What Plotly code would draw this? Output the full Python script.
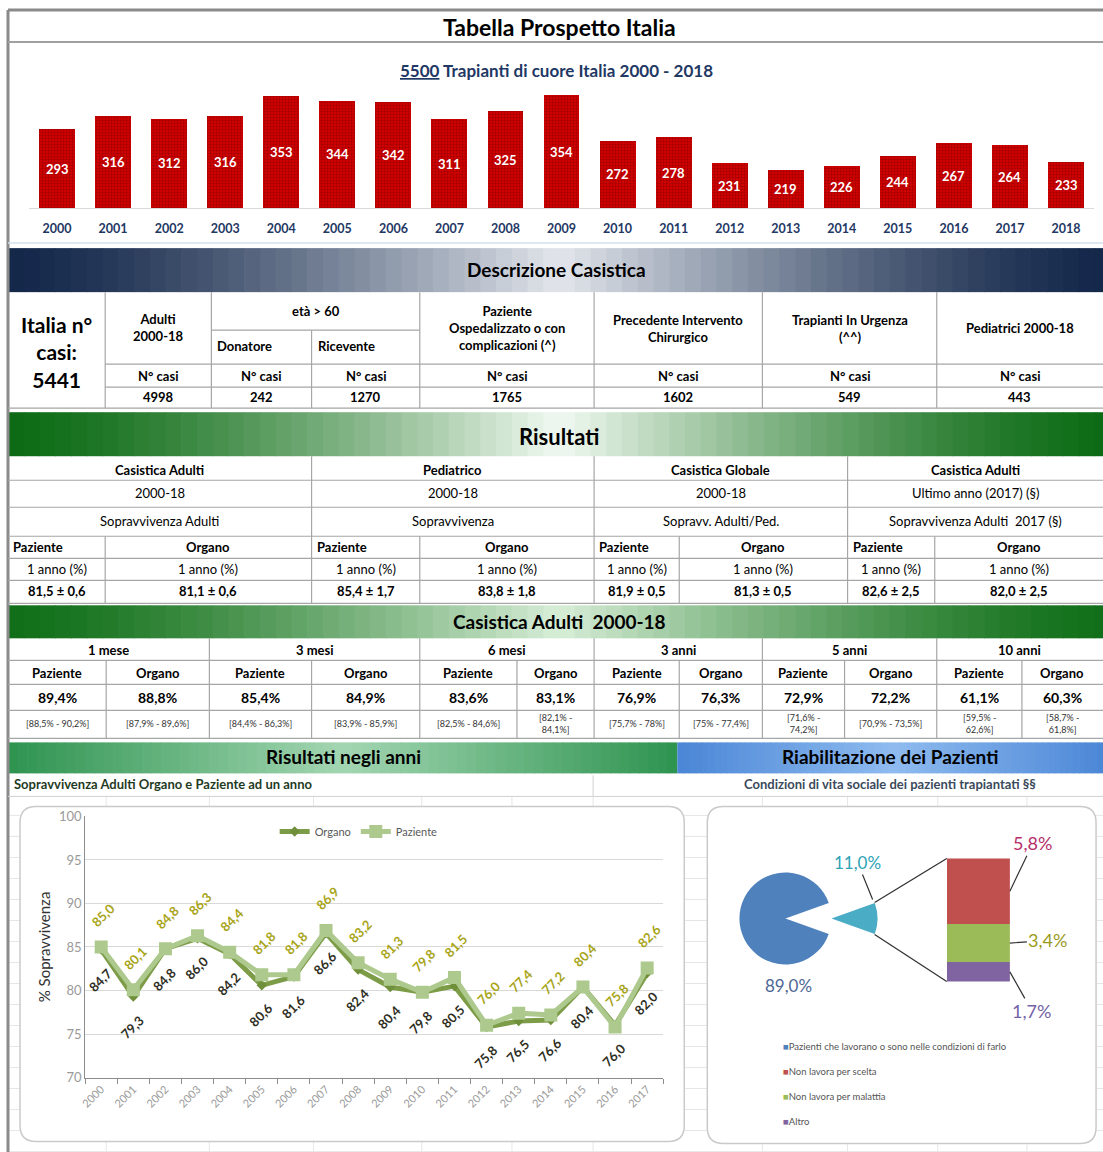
import plotly.graph_objects as go

W, H = 1103, 1152
FONT = "Lato, 'Open Sans', sans-serif"

# ---- dati ----
anni = [str(a) for a in range(2000, 2019)]
trapianti = [293, 316, 312, 316, 353, 344, 342, 311, 325, 354, 272, 278, 231, 219, 226, 244, 267, 264, 233]
Y_BASE = 150  # inizio asse barre

italia_casi = 5441
desc_headers = ["Adulti<br>2000-18", "Donatore", "Ricevente",
                "Paziente<br>Ospedalizzato o con<br>complicazioni (^)",
                "Precedente Intervento<br>Chirurgico", "Trapianti In Urgenza<br>(^^)",
                "Pediatrici 2000-18"]
desc_values = [4998, 242, 1270, 1765, 1602, 549, 443]

ris_gruppi = ["Casistica Adulti", "Pediatrico", "Casistica Globale", "Casistica Adulti"]
ris_periodo = ["2000-18", "2000-18", "2000-18", "Ultimo anno (2017) (§)"]
ris_descr = ["Sopravvivenza Adulti", "Sopravvivenza", "Sopravv. Adulti/Ped.", "Sopravvivenza Adulti  2017 (§)"]
ris_paziente = ["81,5 ± 0,6", "85,4 ± 1,7", "81,9 ± 0,5", "82,6 ± 2,5"]
ris_organo = ["81,1 ± 0,6", "83,8 ± 1,8", "81,3 ± 0,5", "82,0 ± 2,5"]

cas_periodi = ["1 mese", "3 mesi", "6 mesi", "3 anni", "5 anni", "10 anni"]
cas_paziente = ["89,4%", "85,4%", "83,6%", "76,9%", "72,9%", "61,1%"]
cas_organo = ["88,8%", "84,9%", "83,1%", "76,3%", "72,2%", "60,3%"]
cas_paz_ic = ["[88,5% - 90,2%]", "[84,4% - 86,3%]", "[82,5% - 84,6%]", "[75,7% - 78%]",
              "[71,6% -<br>74,2%]", "[59,5% -<br>62,6%]"]
cas_org_ic = ["[87,9% - 89,6%]", "[83,9% - 85,9%]", "[82,1% -<br>84,1%]", "[75% - 77,4%]",
              "[70,9% - 73,5%]", "[58,7% -<br>61,8%]"]

anni_linea = [str(a) for a in range(2000, 2018)]
organo = [84.7, 79.3, 84.8, 86.0, 84.2, 80.6, 81.6, 86.6, 82.4, 80.4, 79.8, 80.5, 75.8, 76.5, 76.6, 80.4, 76.0, 82.0]
paziente = [85.0, 80.1, 84.8, 86.3, 84.4, 81.8, 81.8, 86.9, 83.2, 81.3, 79.8, 81.5, 76.0, 77.4, 77.2, 80.4, 75.8, 82.6]

riab_labels = ["Pazienti che lavorano o sono nelle condizioni di farlo", "Non lavora per scelta",
               "Non lavora per malattia", "Altro"]
riab_torta = [89.0, 11.0]
riab_barra = [5.8, 3.4, 1.7]

C_BLU, C_TEAL = "#4f81bd", "#4bacc6"
C_BARRA = ["#c0504d", "#9bbb59", "#8064a2"]
C_LAB_BARRA = ["#b5306a", "#9a9a1a", "#7462a6"]

# calibrazione della pagina fotografata (offset px, scala)
OX, SX = 8, 0.9927
OY, SY = 8, 0.9856


def X(p):
    return (p - OX) / SX / W


def Y(p):
    return 1 - (p - OY) / SY / H


def fmt(v):
    return f"{v:.1f}".replace(".", ",")


shapes = []
ann = []


def line(x0, y0, x1, y1, color="#a6a6a6", width=1.2, layer="above"):
    shapes.append(dict(type="line", xref="paper", yref="paper", x0=X(x0), y0=Y(y0), x1=X(x1), y1=Y(y1),
                       line=dict(color=color, width=width), layer=layer))


def rect(x0, y0, x1, y1, fill, layer="below"):
    shapes.append(dict(type="rect", xref="paper", yref="paper", x0=X(x0), y0=Y(y0), x1=X(x1), y1=Y(y1),
                       fillcolor=fill, line=dict(width=0), layer=layer))


def text(x, y, s, size=13, color="black", bold=False, anchor="center"):
    if bold:
        s = f"<b>{s}</b>"
    ann.append(dict(xref="paper", yref="paper", x=X(x), y=Y(y), text=s, showarrow=False,
                    xanchor=anchor, yanchor="middle", font=dict(family=FONT, size=size, color=color)))


def rgb(h):
    return tuple(int(h[i:i + 2], 16) for i in (1, 3, 5))


def band(x0, x1, y0, y1, edge, center, n=70, p=1.4):
    e, c = rgb(edge), rgb(center)
    step = (x1 - x0) / n
    for i in range(n):
        t = (1 - abs(2 * (i + 0.5) / n - 1)) ** p
        col = "rgb(%d,%d,%d)" % tuple(round(a + (b - a) * t) for a, b in zip(e, c))
        rect(x0 + i * step, y0, min(x1, x0 + (i + 1) * step + 0.7), y1, col)


def rbox(x0, y0, x1, y1, r=16):
    path = (f"M {X(x0 + r)},{Y(y0)} L {X(x1 - r)},{Y(y0)} Q {X(x1)},{Y(y0)} {X(x1)},{Y(y0 + r)} "
            f"L {X(x1)},{Y(y1 - r)} Q {X(x1)},{Y(y1)} {X(x1 - r)},{Y(y1)} "
            f"L {X(x0 + r)},{Y(y1)} Q {X(x0)},{Y(y1)} {X(x0)},{Y(y1 - r)} "
            f"L {X(x0)},{Y(y0 + r)} Q {X(x0)},{Y(y0)} {X(x0 + r)},{Y(y0)} Z")
    shapes.append(dict(type="path", xref="paper", yref="paper", path=path, fillcolor="white",
                       line=dict(color="#cacaca", width=1.5), layer="below"))


fig = go.Figure()

# ---- cornice e titolo ----
line(10, 10, 1110, 10, "#8a8a8a", 3)
line(10, 10, 10, 1160, "#8a8a8a", 3)
line(10, 42, 1110, 42, "#a0a0a0", 2)
line(10, 243, 1110, 243, "#d5dfea", 1.5)
text(560, 27, "Tabella Prospetto Italia", 23, bold=True)
text(557, 70, f"<u>{sum(trapianti)}</u> Trapianti di cuore Italia {anni[0]} - {anni[-1]}", 17, "#1f3864", bold=True)

# ---- barre trapianti ----
fig.add_trace(go.Bar(
    x=anni, y=trapianti, width=0.64, textposition="none",
    marker=dict(line=dict(width=0),
                pattern=dict(shape="+", bgcolor="#cf0000", fgcolor="#8c0000", fgopacity=0.8, size=3,
                             solidity=0.3, fillmode="replace")),
    showlegend=False, hoverinfo="x+y", xaxis="x", yaxis="y"))
for i, v in enumerate(trapianti):
    ann.append(dict(xref="x", yref="y", x=i, y=(v + Y_BASE) / 2, text=f"<b>{v}</b>", showarrow=False,
                    font=dict(family=FONT, size=13, color="white")))

# ---- Descrizione Casistica ----
band(10, 1110, 248, 292, "#13274a", "#e3e7ec")
text(557, 269, "Descrizione Casistica", 19, bold=True)
text(58, 352, f"Italia n°<br>casi:<br>{italia_casi}", 21, bold=True)
dcols = [107, 213, 313, 421, 595, 763, 937, 1103]
for xv in [107, 213, 421, 595, 763, 937]:
    line(xv, 292, xv, 408)
line(313, 330, 313, 408)
line(213, 330, 421, 330)
for yv in [364, 387]:
    line(107, yv, 1110, yv)
line(10, 408, 1110, 408)
text(160, 327, desc_headers[0], 13, bold=True)
text(317, 311, "età > 60", 13, bold=True)
text(217, 346, desc_headers[1], 13, bold=True, anchor="left")
text(317, 346, desc_headers[2], 13, bold=True, anchor="left")
for i in range(3, 7):
    text((dcols[i] + dcols[i + 1]) / 2, 328, desc_headers[i], 13, bold=True)
for i, v in enumerate(desc_values):
    cx = (dcols[i] + dcols[i + 1]) / 2
    text(cx, 376, "N° casi", 13, bold=True)
    text(cx, 397, str(v), 13, bold=True)

# ---- Risultati ----
band(10, 1110, 412, 456, "#0c6b14", "#f2f9f2")
text(560, 436, "Risultati", 22, bold=True)
rg = [10, 313, 595, 848, 1103]
rs = [107, 421, 680, 935]
for yv in [480, 507, 536, 558, 580, 603]:
    line(10, yv, 1110, yv)
for xv in rg[1:-1]:
    line(xv, 456, xv, 603)
for xv in rs:
    line(xv, 536, xv, 603)
for i in range(4):
    cg = (rg[i] + rg[i + 1]) / 2
    cp = (rg[i] + rs[i]) / 2
    co = (rs[i] + rg[i + 1]) / 2
    text(cg, 470, ris_gruppi[i], 13, bold=True)
    text(cg, 493, ris_periodo[i], 13)
    text(cg, 521, ris_descr[i], 13)
    text(rg[i] + 3, 547, "Paziente", 13, bold=True, anchor="left")
    text(co, 547, "Organo", 13, bold=True)
    text(cp, 569, "1 anno (%)", 13)
    text(co, 569, "1 anno (%)", 13)
    text(cp, 591, ris_paziente[i], 13, bold=True)
    text(co, 591, ris_organo[i], 13, bold=True)

# ---- Casistica Adulti 2000-18 ----
band(10, 1110, 605, 638, "#106f18", "#d8eed8")
text(560, 621, "Casistica Adulti  2000-18", 19, bold=True)
cg_ = [10, 211, 421, 595, 763, 937, 1103]
cs_ = [108, 313, 518, 680, 845, 1022]
for yv in [660, 684, 710, 738]:
    line(10, yv, 1110, yv)
for xv in cg_[1:-1]:
    line(xv, 638, xv, 738)
for xv in cs_:
    line(xv, 660, xv, 738)
for i in range(6):
    cp = (cg_[i] + cs_[i]) / 2
    co = (cs_[i] + cg_[i + 1]) / 2
    text((cg_[i] + cg_[i + 1]) / 2, 650, cas_periodi[i], 13, bold=True)
    text(cp, 673, "Paziente", 13, bold=True)
    text(co, 673, "Organo", 13, bold=True)
    text(cp, 697, cas_paziente[i], 14, bold=True)
    text(co, 697, cas_organo[i], 14, bold=True)
    text(cp, 723, cas_paz_ic[i], 9, "#333333")
    text(co, 723, cas_org_ic[i], 9, "#333333")

# ---- sezione inferiore ----
band(10, 678, 742, 773, "#2e9350", "#a3d6b2", p=1.0)
band(678, 1110, 742, 773, "#4a86d6", "#8fbbef", p=1.0)
text(345, 756, "Risultati negli anni", 19, bold=True)
text(890, 756, "Riabilitazione dei Pazienti", 19, bold=True)
text(14, 784, "Sopravvivenza Adulti Organo e Paziente ad un anno", 13, "#1f3b1f", bold=True, anchor="left")
text(890, 784, "Condizioni di vita sociale dei pazienti trapiantati §§", 13, "#3b4a5c", bold=True)
line(10, 796, 1110, 796, "#d0d0d0", 1)
line(594, 775, 594, 796, "#d0d0d0", 1)

# griglia del foglio di calcolo
for yv in range(815, 1160, 21):
    line(10, yv, 1110, yv, "#e6e6e6", 1, "below")
for xv in [108, 211, 315, 423, 513, 594, 763, 848, 938, 1027]:
    line(xv, 796, xv, 1160, "#e6e6e6", 1, "below")
rbox(22, 806, 685, 1141)
rbox(708, 806, 1096, 1143)

# ---- grafico sopravvivenza ----
fig.add_trace(go.Scatter(
    x=anni_linea, y=organo, name="Organo", mode="lines+markers",
    line=dict(color="#7d9c48", width=5), marker=dict(symbol="diamond", size=8, color="#6f8f3a"),
    xaxis="x2", yaxis="y2"))
fig.add_trace(go.Scatter(
    x=anni_linea, y=paziente, name="Paziente", mode="lines+markers",
    line=dict(color="#adc98d", width=5), marker=dict(symbol="square", size=13, color="#adc98d"),
    xaxis="x2", yaxis="y2"))
for i, (vo, vp) in enumerate(zip(organo, paziente)):
    ann.append(dict(xref="x2", yref="y2", x=i, y=vp, text=f"<b>{fmt(vp)}</b>", showarrow=False,
                    textangle=-45, yshift=32, xshift=2,
                    font=dict(family=FONT, size=13, color="#a8a418")))
    ann.append(dict(xref="x2", yref="y2", x=i, y=vo, text=f"<b>{fmt(vo)}</b>", showarrow=False,
                    textangle=-45, yshift=-30, xshift=-1,
                    font=dict(family=FONT, size=13, color="#2e2e1e")))

# ---- riabilitazione: torta + barra ----
fig.add_trace(go.Pie(
    values=riab_torta, labels=[riab_labels[0], "Non lavora"], sort=False, direction="clockwise",
    rotation=90 + riab_torta[1] / 100 * 180, pull=[0, 1], textinfo="none", showlegend=False,
    marker=dict(colors=[C_BLU, C_TEAL], line=dict(width=0)),
    domain=dict(x=[X(694), X(878)], y=[Y(1010), Y(826)])))
for v, c, nm in zip(riab_barra[::-1], C_BARRA[::-1], riab_labels[1:][::-1]):
    fig.add_trace(go.Bar(x=[0], y=[v], width=1, name=nm, marker=dict(color=c, line=dict(width=0)),
                         showlegend=False, xaxis="x3", yaxis="y3"))
tot = sum(riab_barra)

# connettori torta -> barra
line(875, 902, 947, 858, "#333333", 1.3)
line(875, 934, 947, 981, "#333333", 1.3)

text(789, 985, fmt(riab_torta[0]) + "%", 17, "#4d6795")
ann.append(dict(xref="paper", yref="paper", x=X(873), y=Y(899), ax=-15, ay=-37, text=fmt(riab_torta[1]) + "%",
                showarrow=True, arrowhead=0, arrowwidth=1.2, arrowcolor="#333333",
                font=dict(family=FONT, size=17, color="#2ea3b6")))
cum = 0
mids = []
for v in riab_barra[::-1]:
    mids.append(cum + v / 2)
    cum += v
mids = mids[::-1]
offs = [(23, -48), (38, -3), (22, 39)]
for v, m, col, (ax, ay) in zip(riab_barra, mids, C_LAB_BARRA, offs):
    ann.append(dict(xref="x3", yref="y3", x=0.5, y=m, ax=ax, ay=ay, text=fmt(v) + "%",
                    showarrow=True, arrowhead=0, arrowwidth=1.2, arrowcolor="#333333",
                    font=dict(family=FONT, size=18, color=col)))

# legenda riabilitazione
for i, (lab, col) in enumerate(zip(riab_labels, [C_BLU] + C_BARRA)):
    text(782, 1046 + 25 * i, f"<span style='color:{col}'>■</span>{lab}", 9.5, "#555555", anchor="left")

fig.update_layout(
    width=W, height=H, autosize=False, margin=dict(l=0, r=0, t=0, b=0),
    paper_bgcolor="white", plot_bgcolor="rgba(0,0,0,0)", barmode="stack",
    font=dict(family=FONT),
    shapes=shapes, annotations=ann,
    legend=dict(orientation="h", x=X(360), y=Y(831), xanchor="center", yanchor="middle", traceorder="normal",
                font=dict(family=FONT, size=11, color="#595959"), bgcolor="rgba(0,0,0,0)"),
    xaxis=dict(domain=[X(31), X(1094)], range=[-0.5, 18.5], type="category", anchor="y",
               showline=True, linecolor="#d9d9d9", showgrid=False, ticks="outside", ticklen=9,
               tickcolor="rgba(0,0,0,0)", tickfont=dict(family=FONT, size=12.5, color="#1f3864", weight="bold")),
    yaxis=dict(domain=[Y(208), Y(92)], range=[Y_BASE, 360], visible=False, anchor="x"),
    xaxis2=dict(domain=[X(87), X(664)], range=[-0.5, 17.5], type="category", anchor="y2",
                showline=True, linecolor="#8c8c8c", showgrid=False, ticks="outside", tickson="boundaries",
                ticklen=5, tickcolor="#8c8c8c", tickangle=-45,
                tickfont=dict(family=FONT, size=11, color="#9a9a9a")),
    yaxis2=dict(domain=[Y(1077), Y(816)], range=[70, 100], dtick=5, anchor="x2",
                showline=True, linecolor="#8c8c8c", gridcolor="#d9d9d9", zeroline=False,
                tickfont=dict(family=FONT, size=13, color="#9a9a9a"),
                title=dict(text="% Sopravvivenza", standoff=4, font=dict(family=FONT, size=15, color="#333333"))),
    xaxis3=dict(domain=[X(947), X(1010)], range=[-0.5, 0.5], visible=False, anchor="y3"),
    yaxis3=dict(domain=[Y(981), Y(858)], range=[0, tot], visible=False, anchor="x3"),
)

fig.write_html("out.html", config={"displayModeBar": False},
               post_script="document.body.style.margin='0px';")
